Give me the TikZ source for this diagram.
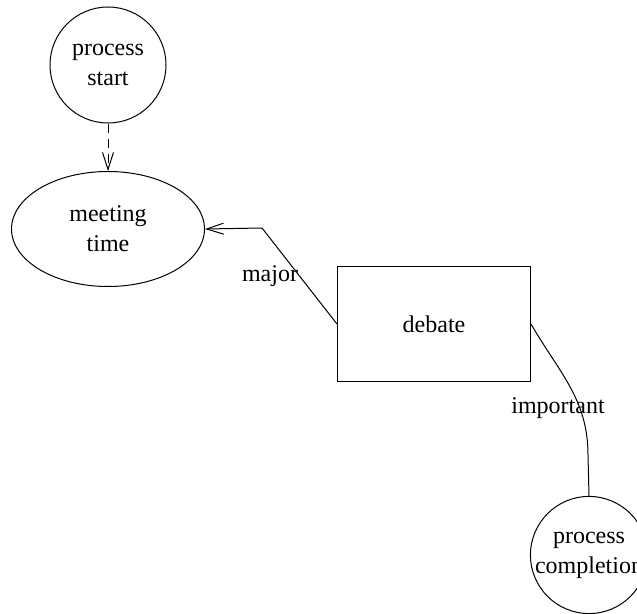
\documentclass[tikz,border=0pt]{standalone}
\usepackage{fontspec}
\setmainfont{Liberation Serif}
\usetikzlibrary{shapes.geometric, arrows.meta}

\begin{document}
\begin{tikzpicture}[x=1pt, y=-1pt, line width=1pt,
    >={Straight Barb[length=17pt, width=11pt]},
    every node/.style={font=\fontsize{24}{30}\selectfont, align=center},
    state/.style={draw, circle, inner sep=0pt, minimum size=116pt},
    event/.style={draw, ellipse, minimum width=193pt, minimum height=115pt},
    task/.style={draw, rectangle, minimum width=193pt, minimum height=115pt}]
    \clip[use as bounding box] (0,0) rectangle (637,613);

    % Các nút
    \node[state] (start) at (108,65) {process\\start};
    \node[event] (meeting) at (108,229) {meeting\\time};
    \node[task] (debate) at (434,324) {debate};
    \node[state] (completion) at (589,555) {process\\completion};

    % Điểm gấp
    \coordinate (bend) at (262,228); % major
    \coordinate (kink) at (588,455); % important

    % Đường nối
    \draw[->, dash pattern=on 9pt off 6pt] (start) -- (meeting);
    \draw[->] (debate.west) -- (bend) -- (meeting.east);
    \draw (debate.east) to[out=-60, in=90] (kink) -- (completion.north);

    % Ghi nhãn
    \node (major) at (270,276) {major};
    \node (important) at (558,408) {important};
\end{tikzpicture}
\end{document}
